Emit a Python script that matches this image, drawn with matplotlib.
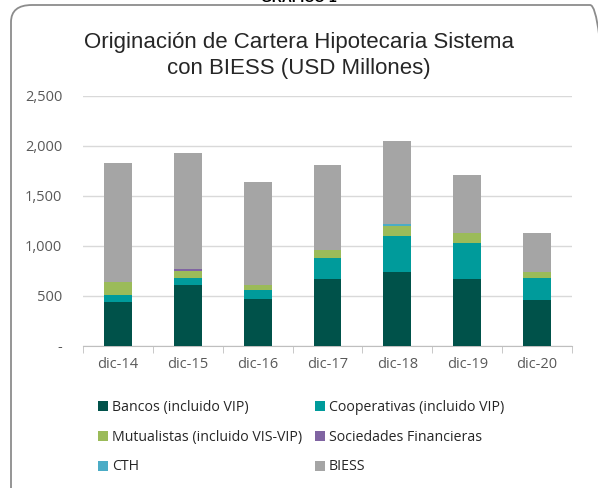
import numpy as np
import matplotlib
matplotlib.use("Agg")
import matplotlib.pyplot as plt
from matplotlib.patches import FancyBboxPatch, Patch

# datos (USD millones)
years = ["dic-14", "dic-15", "dic-16", "dic-17", "dic-18", "dic-19", "dic-20"]
bancos = [438, 605, 465, 662, 735, 662, 452]
cooperativas = [70, 73, 87, 213, 363, 366, 226]
mutualistas = [127, 67, 53, 83, 97, 100, 57]
sociedades = [0, 20, 0, 0, 0, 0, 0]
cth = [0, 0, 0, 0, 23, 0, 0]
biess = [1193, 1163, 1027, 844, 824, 574, 393]

labels = ["Bancos (incluido VIP)", "Cooperativas (incluido VIP)",
          "Mutualistas (incluido VIS-VIP)", "Sociedades Financieras",
          "CTH", "BIESS"]
colors = ["#00524A", "#009B9B", "#9BBB59", "#8064A2", "#4BACC6", "#A5A5A5"]
series = [bancos, cooperativas, mutualistas, sociedades, cth, biess]

fig = plt.figure(figsize=(5.98, 4.88), dpi=100)

# marco redondeado
frame = FancyBboxPatch((11 / 598, -0.05), 600 / 598, 1 - 5 / 488 + 0.05,
                       boxstyle="round,pad=0,rounding_size=0.035",
                       transform=fig.transFigure, facecolor="none",
                       edgecolor="#8C8C8C", linewidth=1.3, zorder=-1)
fig.patches.append(frame)

fig.text(0.5, 1.005, "GRÁFICO 1", ha="center", va="center", fontsize=10,
         fontweight="bold", color="black", family="Liberation Sans")

fig.text(0.5, 0.913, "Originación de Cartera Hipotecaria Sistema",
         ha="center", va="center", fontsize=16, color="#262626",
         family="Liberation Sans")
fig.text(0.5, 0.86, "con BIESS (USD Millones)",
         ha="center", va="center", fontsize=16, color="#262626",
         family="Liberation Sans")

ax = fig.add_axes([83 / 598, 1 - 345.5 / 488, (572 - 83) / 598, 250 / 488])

x = np.arange(len(years))
bottom = np.zeros(len(years))
for vals, col in zip(series, colors):
    ax.bar(x, vals, width=0.4, bottom=bottom, color=col, zorder=3)
    bottom += np.array(vals)

ax.set_xlim(-0.5, len(years) - 0.5)
ax.set_ylim(0, 2500)
ax.set_yticks([0, 500, 1000, 1500, 2000, 2500])
ax.set_yticklabels(["-", "500", "1,000", "1,500", "2,000", "2,500"])
ax.yaxis.grid(True, color="#D9D9D9", linewidth=1, zorder=0)
ax.tick_params(axis="y", length=0, pad=15, labelsize=10.5, labelcolor="#595959")

ax.set_xticks(x)
ax.set_xticklabels(years)
ax.set_xticks(np.arange(-0.5, len(years)), minor=True)
ax.tick_params(axis="x", which="major", length=0, pad=8, labelsize=10.5,
               labelcolor="#595959")
ax.tick_params(axis="x", which="minor", length=5, color="#BFBFBF", direction="out")

for s in ["top", "right", "left"]:
    ax.spines[s].set_visible(False)
ax.spines["bottom"].set_color("#BFBFBF")
for lab in ax.get_xticklabels() + ax.get_yticklabels():
    lab.set_family("Open Sans")

# leyenda por filas: reordenar para ncol=2
handles = [Patch(facecolor=c, edgecolor="none") for c in colors]
order = [0, 2, 4, 1, 3, 5]
leg = fig.legend([handles[i] for i in order], [labels[i] for i in order],
                 ncol=2, loc="upper left",
                 bbox_to_anchor=(85 / 598, 1 - 387 / 488), frameon=False,
                 handlelength=0.7, handleheight=0.7,
                 handletextpad=0.3, columnspacing=0.9, labelspacing=1.05,
                 prop={"family": "Open Sans", "size": 10.2})
for t in leg.get_texts():
    t.set_color("#262626")

fig.savefig("out.png", dpi=100)
